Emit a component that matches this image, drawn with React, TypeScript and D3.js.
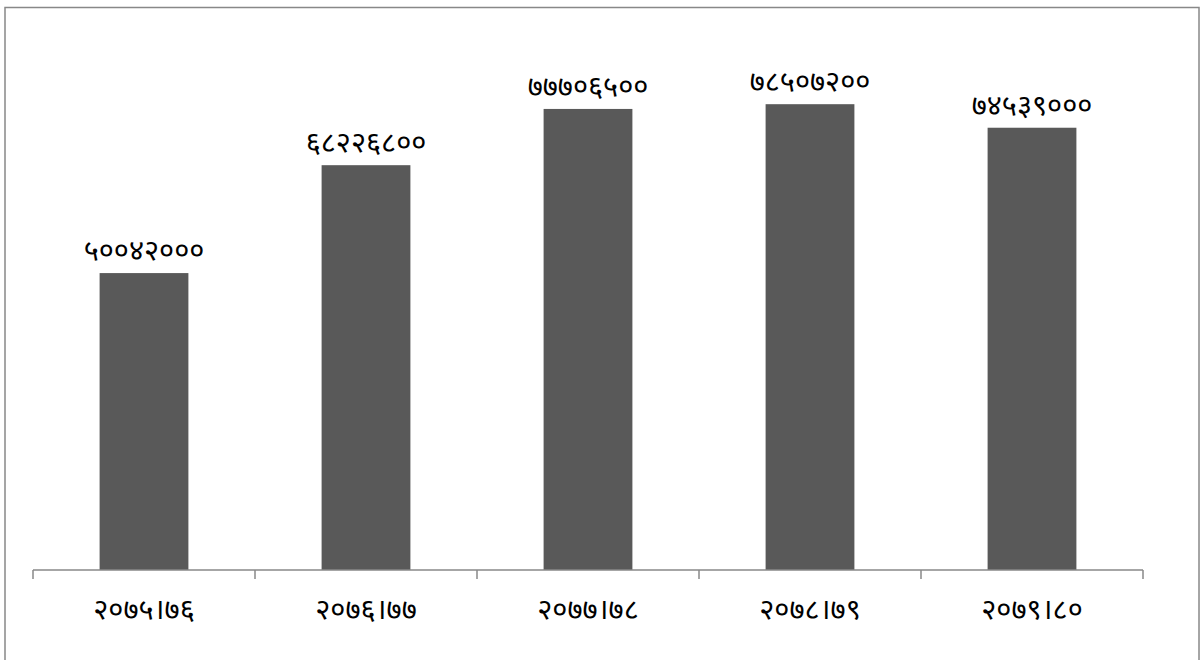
import React from "react";
import * as d3 from "d3";

const categories = ["२०७५।७६", "२०७६।७७", "२०७७।७८", "२०७८।७९", "२०७९।८०"];
const values = [50042000, 68226800, 77706500, 78507200, 74539000];
const valueLabels = ["५००४२०००", "६८२२६८००", "७७७०६५००", "७८५०७२००", "७४५३९०००"];
const yMax = 90000000;

export default function App() {
  const W = 1202, H = 660;
  const left = 33, right = 1143, base = 570, top = 36;
  const x = d3.scaleBand<string>().domain(categories).range([left, right]).paddingInner(0.6).paddingOuter(0.3);
  const y = d3.scaleLinear().domain([0, yMax]).range([base, top]);
  const step = (right - left) / categories.length;
  const ticks = d3.range(categories.length + 1).map(i => left + i * step);
  const font = "'Noto Sans Devanagari', 'Noto Sans', sans-serif";
  return (
    <svg width={W} height={H} style={{ position: "absolute", left: 0, top: 0, background: "#fff" }}>
      <rect x={5} y={7.5} width={1194} height={700} fill="#fff" stroke="#888" strokeWidth={1.5} />
      {categories.map((c, i) => (
        <rect key={c} x={x(c)} y={y(values[i])} width={x.bandwidth()} height={base - y(values[i])} fill="#595959" />
      ))}
      <line x1={left} x2={right} y1={base} y2={base} stroke="#888" strokeWidth={1.5} />
      {ticks.map((t, i) => (
        <line key={i} x1={t} x2={t} y1={base} y2={base + 9} stroke="#888" strokeWidth={1.5} />
      ))}
      {categories.map((c, i) => (
        <text key={"v" + c} x={x(c)! + x.bandwidth() / 2} y={y(values[i]) - 13} textAnchor="middle" fontFamily={font} fontSize={29} fill="#000">{valueLabels[i]}</text>
      ))}
      {categories.map((c) => (
        <text key={"c" + c} x={x(c)! + x.bandwidth() / 2} y={619} textAnchor="middle" fontFamily={font} fontSize={29} fill="#000">{c}</text>
      ))}
    </svg>
  );
}
